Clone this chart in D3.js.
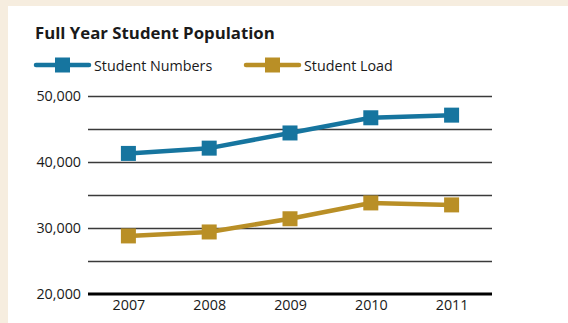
<!DOCTYPE html>
<html>
<head>
<meta charset="utf-8">
<script src="https://cdn.jsdelivr.net/npm/d3@7"></script>
<style>
  html, body { margin: 0; padding: 0; background: #f6eddf; }
  svg { display: block; }
  text { font-family: "Open Sans", "DejaVu Sans", sans-serif; fill: #1a1a1a; }
</style>
</head>
<body>
<svg id="chart" width="568" height="323"></svg>
<script>
// Student population by year
const years = ["2007", "2008", "2009", "2010", "2011"];
const studentNumbers = [41300, 42100, 44400, 46700, 47100];
const studentLoad = [28800, 29400, 31400, 33800, 33500];
const yTicks = [20000, 25000, 30000, 35000, 40000, 45000, 50000];
const yLabelTicks = [20000, 30000, 40000, 50000];
const seriesNames = ["Student Numbers", "Student Load"];
const seriesColors = ["#16759f", "#b98f26"];

const series = [
  { name: seriesNames[0], color: seriesColors[0], values: studentNumbers },
  { name: seriesNames[1], color: seriesColors[1], values: studentLoad }
];

const svg = d3.select("#chart");

// white card
svg.append("rect").attr("x", 8).attr("y", 6).attr("width", 560).attr("height", 317).attr("fill", "#fff");

const plot = { left: 88, right: 492, top: 96, bottom: 294 };

const x = d3.scalePoint().domain(years).range([plot.left, plot.right]).padding(0.5);
const y = d3.scaleLinear().domain([20000, 50000]).range([plot.bottom, plot.top]);

// title
svg.append("text").attr("x", 35).attr("y", 39)
  .attr("font-size", 16.8).attr("font-weight", 700).text("Full Year Student Population");

// legend
const legendX = [35, 245];
series.forEach((s, i) => {
  const g = svg.append("g").attr("transform", `translate(${legendX[i]},65)`);
  g.append("line").attr("x1", 1).attr("x2", 54).attr("y1", 0).attr("y2", 0)
    .attr("stroke", s.color).attr("stroke-width", 4.5).attr("stroke-linecap", "round");
  g.append("rect").attr("x", 20).attr("y", -7.5).attr("width", 15).attr("height", 15).attr("fill", s.color);
  g.append("text").attr("x", 59).attr("y", 6).attr("font-size", 14.3).text(s.name);
});

// gridlines
svg.append("g").selectAll("line").data(yTicks.slice(1)).join("line")
  .attr("x1", plot.left).attr("x2", plot.right)
  .attr("y1", d => Math.round(y(d)) + 0.5).attr("y2", d => Math.round(y(d)) + 0.5)
  .attr("stroke", "#3a3a3a").attr("stroke-width", 1.3);

// y axis labels
const yAxis = d3.axisLeft(y).tickValues(yLabelTicks).tickFormat(d3.format(",")).tickSize(0).tickPadding(7);
const ya = svg.append("g").attr("transform", `translate(${plot.left},0)`).call(yAxis);
ya.select(".domain").remove();
ya.selectAll("text").attr("font-size", 14.3).attr("fill", "#1a1a1a")
  .style("font-family", '"Open Sans", "DejaVu Sans", sans-serif');

// x axis baseline and labels
const xAxis = d3.axisBottom(x).tickSize(0).tickPadding(6);
const xa = svg.append("g").attr("transform", `translate(0,${plot.bottom})`).call(xAxis);
xa.select(".domain").remove();
xa.selectAll("text").attr("font-size", 14.3).attr("fill", "#1a1a1a")
  .style("font-family", '"Open Sans", "DejaVu Sans", sans-serif');
svg.append("line").attr("x1", plot.left).attr("x2", plot.right)
  .attr("y1", plot.bottom).attr("y2", plot.bottom)
  .attr("stroke", "#000").attr("stroke-width", 3);

// series lines and markers
const line = d3.line().x((d, i) => x(years[i])).y(d => y(d));
series.forEach(s => {
  svg.append("path").datum(s.values).attr("d", line)
    .attr("fill", "none").attr("stroke", s.color).attr("stroke-width", 4.5)
    .attr("stroke-linejoin", "round");
  svg.append("g").selectAll("rect").data(s.values).join("rect")
    .attr("x", (d, i) => x(years[i]) - 7.5).attr("y", d => y(d) - 7.5)
    .attr("width", 15).attr("height", 15).attr("fill", s.color);
});
</script>
</body>
</html>
